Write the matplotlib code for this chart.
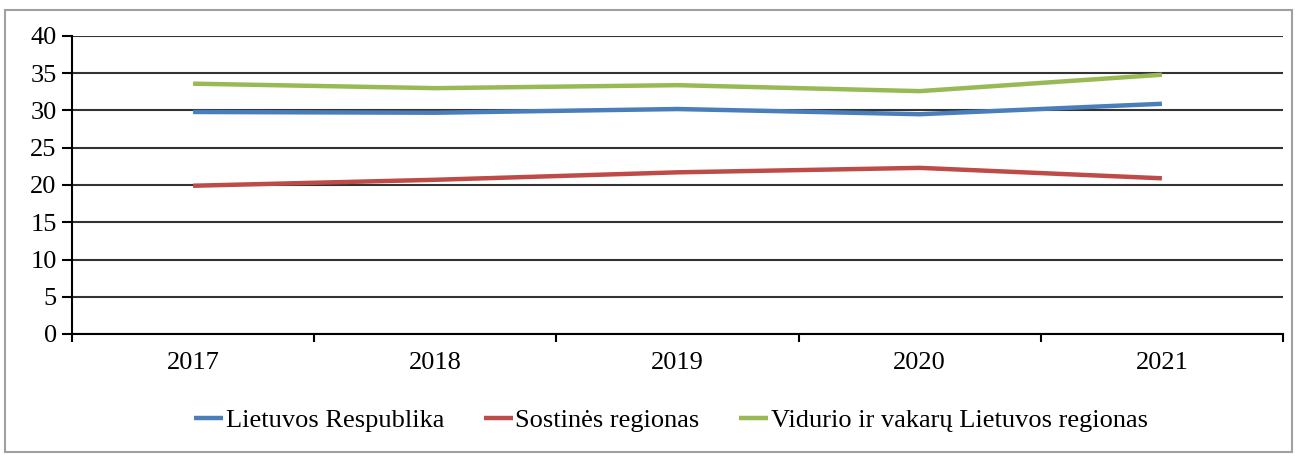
import matplotlib.pyplot as plt
from matplotlib.patches import Rectangle
import numpy as np

years = ['2017', '2018', '2019', '2020', '2021']
lietuva = [29.8, 29.7, 30.2, 29.5, 30.9]
sostine = [19.9, 20.7, 21.7, 22.3, 20.9]
vidurio = [33.6, 33.0, 33.4, 32.6, 34.8]
labels = ['Lietuvos Respublika', 'Sostinės regionas',
          'Vidurio ir vakarų Lietuvos regionas']
colors = ['#4a7ebb', '#be4b48', '#98b954']

plt.rcParams['font.family'] = ['Liberation Serif', 'DejaVu Serif']
fs = 19

fig = plt.figure(figsize=(13, 4.57), dpi=100)
ax = fig.add_axes([72 / 1300, 1 - 334 / 457, (1283 - 72) / 1300, (334 - 36) / 457])

# outer chart border
fig.patches.append(Rectangle((5 / 1300, 5 / 457), 1287 / 1300, 442 / 457,
                             transform=fig.transFigure, fill=False,
                             edgecolor='#a0a0a0', linewidth=1.5))

x = np.arange(len(years))
for vals, lab, col in zip([lietuva, sostine, vidurio], labels, colors):
    ax.plot(x, vals, color=col, linewidth=3.2, label=lab, solid_capstyle='butt')

ax.set_xlim(-0.5, len(years) - 0.5)
ax.set_ylim(0, 40)
ax.set_yticks(np.arange(0, 41, 5))
ax.yaxis.grid(True, color='#333333', linewidth=1.5)
ax.set_axisbelow(True)

ax.set_xticks(x)
ax.set_xticklabels(years)
ax.set_xticks(np.arange(-0.5, len(years), 1), minor=True)
ax.tick_params(axis='x', which='major', length=0, pad=13, labelsize=fs)
ax.tick_params(axis='x', which='minor', length=6, width=1.5, direction='out')
ax.tick_params(axis='y', length=7, width=1.5, labelsize=fs, pad=4)

for s in ['top', 'right']:
    ax.spines[s].set_visible(False)
ax.spines['left'].set_linewidth(1.5)
ax.spines['bottom'].set_linewidth(1.5)

fig.legend(loc='center', bbox_to_anchor=(0.516, 1 - 420 / 457), ncol=3,
           frameon=False, fontsize=fs, handlelength=1.1, handletextpad=0.1,
           columnspacing=1.5)

fig.savefig('out.png', dpi=100)
